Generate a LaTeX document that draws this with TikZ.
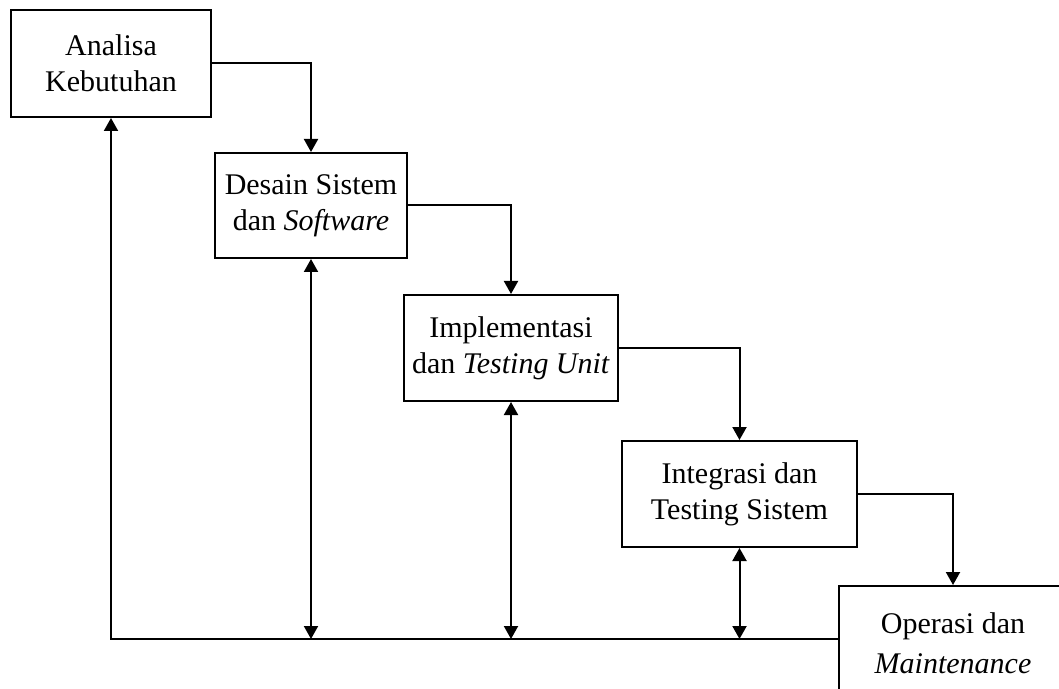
\documentclass[tikz,border=0pt]{standalone}
\usepackage{fontspec}
\setmainfont{Liberation Serif}
\usetikzlibrary{arrows.meta}
\begin{document}
\begin{tikzpicture}[x=0.5pt,y=-0.5pt,
  phase/.style={draw, line width=1pt, fill=white, align=center,
    inner sep=0pt, font=\fontsize{15pt}{18pt}\selectfont},
  flow/.style={line width=1pt, -{Triangle[length=6.5pt,width=7pt]}},
  both/.style={line width=1pt, {Triangle[length=6.5pt,width=7pt]}-{Triangle[length=6.5pt,width=7pt]}}]
\useasboundingbox (0,0) rectangle (1059,689);
\clip (0,0) rectangle (1059,689);

% waterfall phases
\node[phase, minimum width=100pt, minimum height=53.5pt] (a) at (111,63.5)
  {Analisa\\Kebutuhan};
\node[phase, minimum width=96pt, minimum height=52.5pt] (b) at (311,205.5)
  {Desain Sistem\\dan \textit{Software}};
\node[phase, minimum width=107pt, minimum height=53pt] (c) at (511,348)
  {Implementasi\\dan \textit{Testing Unit}};
\node[phase, minimum width=117.5pt, minimum height=53pt] (d) at (739.5,494)
  {Integrasi dan\\Testing Sistem};
\node[phase, minimum width=114pt, minimum height=57pt,
  font=\fontsize{15pt}{20pt}\selectfont] (e) at (953,643)
  {Operasi dan\\\textit{Maintenance}};

% forward flow between phases
\draw[flow] (a.east) -| (b.north);
\draw[flow] (b.east) -| (c.north);
\draw[flow] (c.east) -| (d.north);
\draw[flow] (d.east) -| (e.north);

% feedback line back to the first phase
\coordinate (back) at (839,639);
\draw[flow] (back) -| (a.south);

% two-way links to the feedback line
\draw[both] (b.south) -- (b.south |- back);
\draw[both] (c.south) -- (c.south |- back);
\draw[both] (d.south) -- (d.south |- back);
\end{tikzpicture}
\end{document}
